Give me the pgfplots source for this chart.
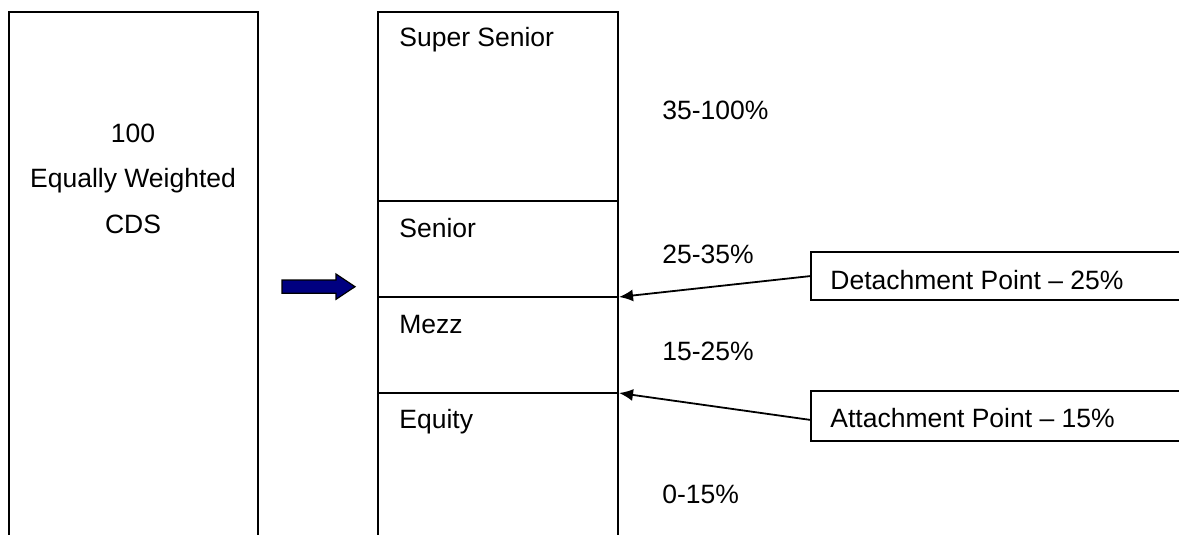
\documentclass[border=0pt]{standalone}
\usepackage{pgfplots}
\pgfplotsset{compat=1.18}
\usepackage{fontspec}
\setmainfont{Liberation Sans}
\usetikzlibrary{arrows.meta}
\definecolor{arrowblue}{RGB}{0,0,128}
\tikzset{lbl/.style={inner sep=0pt, font=\fontsize{13.3}{16}\selectfont}}
\pgfplotsset{ln/.style={black, solid, line width=0.9bp, mark=none}}
\begin{document}
\begin{tikzpicture}
\begin{axis}[
  scale only axis,
  width=589.5bp, height=267.5bp,
  xmin=0, xmax=1179, ymin=0, ymax=535,
  y dir=reverse,
  hide axis,
  clip=true,
]
% invisible frame to fix the picture size
\addplot[draw=none, mark=none, forget plot] coordinates {(0,0) (1179,535)};
% left box (open at bottom)
\addplot[ln] coordinates {(9,545) (9,12) (258,12) (258,545)};
% tranche box
\addplot[ln] coordinates {(378,545) (378,12) (618,12) (618,545)};
\addplot[ln] coordinates {(378,201) (618,201)};
\addplot[ln] coordinates {(378,297) (618,297)};
\addplot[ln] coordinates {(378,393) (618,393)};
% right boxes (open at right)
\addplot[ln] coordinates {(1190,252) (811,252) (811,300) (1190,300)};
\addplot[ln] coordinates {(1190,391) (811,391) (811,441) (1190,441)};
% pointer arrows
\addplot[ln, -{Latex[length=7bp,width=6bp]}] coordinates {(811,276) (619,297)};
\addplot[ln, -{Latex[length=7bp,width=6bp]}] coordinates {(811,420) (619,393)};
% blue block arrow
\addplot[fill=arrowblue, draw=black, solid, mark=none, line width=0.6bp] coordinates {(282,280) (336,280) (336,274) (355,286.7) (336,299.3) (336,293.3) (282,293.3)} -- cycle;
% left box text
\node[lbl, anchor=base] at (axis cs:133,142) {100};
\node[lbl, anchor=base] at (axis cs:133,187) {Equally Weighted};
\node[lbl, anchor=base] at (axis cs:133,233) {CDS};
% tranche labels
\node[lbl, anchor=base west] at (axis cs:399,47) {Super Senior};
\node[lbl, anchor=base west] at (axis cs:399,237) {Senior};
\node[lbl, anchor=base west] at (axis cs:399,333) {Mezz};
\node[lbl, anchor=base west] at (axis cs:399,428) {Equity};
% percentages
\node[lbl, anchor=base west] at (axis cs:662,119) {35-100\%};
\node[lbl, anchor=base west] at (axis cs:662,263) {25-35\%};
\node[lbl, anchor=base west] at (axis cs:662,360) {15-25\%};
\node[lbl, anchor=base west] at (axis cs:662,503) {0-15\%};
% annotation texts
\node[lbl, anchor=base west] at (axis cs:830,289) {Detachment Point – 25\%};
\node[lbl, anchor=base west] at (axis cs:830,427) {Attachment Point – 15\%};
\end{axis}
\end{tikzpicture}
\end{document}
